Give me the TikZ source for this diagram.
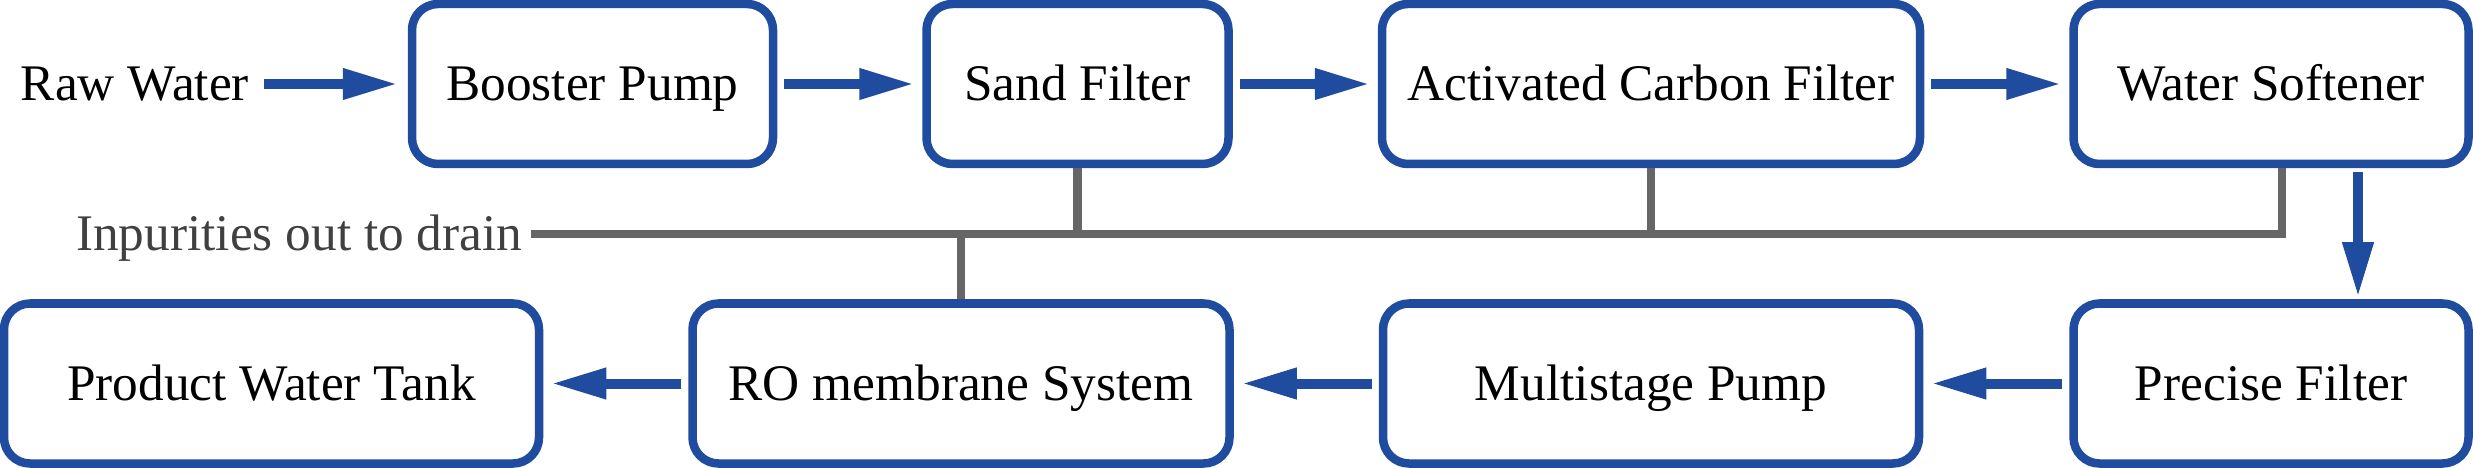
\documentclass[tikz,border=0pt]{standalone}
\usepackage{fontspec}
\setmainfont{Liberation Serif}
\usepackage{xcolor}
\usepackage{tikz}
\usetikzlibrary{arrows.meta,positioning}

\definecolor{procblue}{RGB}{31,76,158}
\definecolor{draingray}{RGB}{102,102,102}
\definecolor{draintext}{RGB}{64,64,64}

\begin{document}
\begin{tikzpicture}[
  font=\fontsize{14.6pt}{17pt}\selectfont,
  node distance=1.31cm and 1.45cm,
  box/.style={draw=procblue, line width=0.085cm, rounded corners=0.26cm,
              minimum height=1.6cm, text height=10.9pt, text depth=1.3pt},
  arr/.style={-{Triangle[length=0.55cm,width=0.29cm]}, line width=0.1cm,
              procblue, shorten <=0.07cm, shorten >=0.08cm},
  drainline/.style={draw=draingray, line width=0.085cm}
]
\useasboundingbox (0,0) rectangle (24.73,-4.68);

% treatment line, top row
\node[box, minimum width=3.61cm] (booster) at (5.925,-0.84) {Booster Pump};
\node[inner sep=0pt, text height=10.9pt, text depth=1.3pt,
      left=1.58cm of booster] (raw) {Raw Water};
\draw[arr, shorten <=0.14cm, shorten >=0.1cm] (raw) -- (booster);

\node[box, minimum width=3.02cm, right=of booster] (sand) {Sand Filter};
\draw[arr] (booster) -- (sand);

\node[box, minimum width=5.38cm, right=of sand] (carbon) {Activated Carbon Filter};
\draw[arr] (sand) -- (carbon);

\node[box, minimum width=3.95cm, right=of carbon] (softener) {Water Softener};
\draw[arr] (carbon) -- (softener);

% bottom row, right to left
\node[box, minimum width=3.95cm, below=of softener] (precise) {Precise Filter};
\draw[arr, shorten <=0.04cm, shorten >=0.02cm]
  ([xshift=0.87cm]softener.south) -- ([xshift=0.87cm]precise.north);

\node[box, minimum width=5.36cm, below=of carbon] (multi) {Multistage Pump};
\draw[arr] (precise) -- (multi);

\node[box, minimum width=5.37cm, left=of multi] (ro) {RO membrane System};
\draw[arr] (multi) -- (ro);

\node[box, minimum width=5.35cm, left=of ro] (tank) {Product Water Tank};
\draw[arr] (ro) -- (tank);

% drain
\node[anchor=east, inner sep=0.08cm, text=draintext,
      text height=10.9pt, text depth=1.3pt] (drain) at (5.31,-2.34)
  {Inpurities out to drain};
\coordinate (drainend) at (22.82,-2.34);
\draw[drainline] (drain.east) -- (drainend) -- (drainend |- softener.south);
\draw[drainline] (sand.south) -- (sand.south |- drain.east);
\draw[drainline] (carbon.south) -- (carbon.south |- drain.east);
\draw[drainline] (ro.north) -- (ro.north |- drain.east);

\end{tikzpicture}
\end{document}
